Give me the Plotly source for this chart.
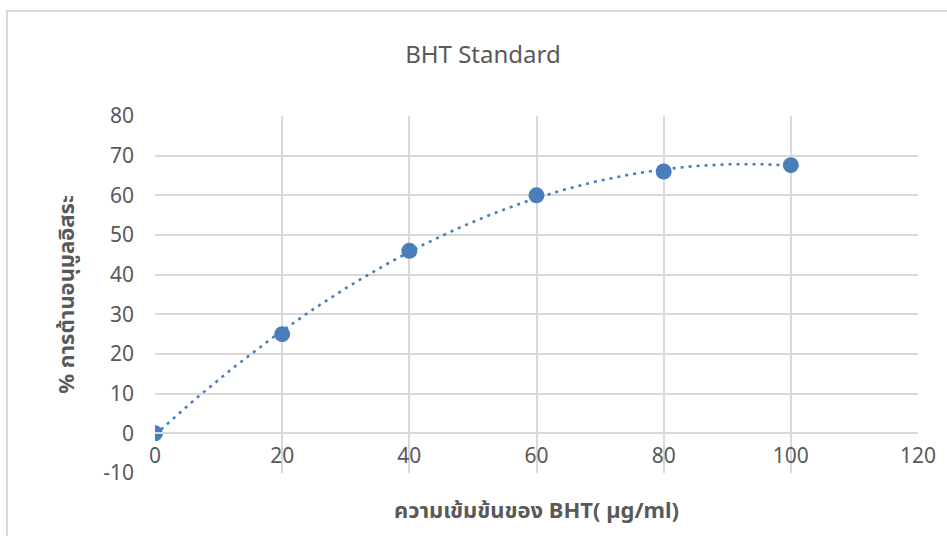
import numpy as np
import plotly.graph_objects as go

# BHT standard curve: concentration vs. % antioxidant activity
concentration = [0, 20, 40, 60, 80, 100]
inhibition = [0, 25, 46, 60, 66, 67.6]

x_ticks = [0, 20, 40, 60, 80, 100, 120]
y_ticks = [-10, 0, 10, 20, 30, 40, 50, 60, 70, 80]

title_text = "BHT Standard"
x_title = "ความเข้มข้นของ BHT( µg/ml)"
y_title = "% การต้านอนุมูลอิสระ"

# Second-order polynomial trendline fitted to the measured points
coeffs = np.polyfit(concentration, inhibition, 2)
trend_x = np.linspace(min(concentration), max(concentration), 200)
trend_y = np.polyval(coeffs, trend_x)

BLUE = "#4a7ebb"
TEXT = "#595959"
GRID = "#d9d9d9"
FONT = "Noto Sans, Noto Sans Thai, sans-serif"

fig = go.Figure()
fig.add_trace(go.Scatter(
    x=trend_x, y=trend_y, mode="lines",
    line=dict(color=BLUE, width=2.6, dash="3px,5px"),
    hoverinfo="skip", showlegend=False,
))
fig.add_trace(go.Scatter(
    x=concentration, y=inhibition, mode="markers",
    marker=dict(color=BLUE, size=16, line=dict(width=0)),
    showlegend=False,
))

fig.update_layout(
    width=947, height=536,
    margin=dict(l=155, r=29, t=116, b=63),
    paper_bgcolor="white", plot_bgcolor="white",
    font=dict(family=FONT, color=TEXT, size=21),
    title=dict(text=title_text, x=0.51, xref="container", y=1 - 55 / 536,
               yref="container", xanchor="center", yanchor="middle",
               font=dict(size=24, color=TEXT, family=FONT)),
    xaxis=dict(
        range=[0, 120], tickvals=x_ticks, ticktext=[str(v) for v in x_ticks],
        showgrid=True, gridcolor=GRID, gridwidth=2,
        zeroline=False, showline=True, linecolor=GRID, linewidth=2,
        anchor="free", position=10 / 90,
        ticks="", ticklabelstandoff=3,
        tickfont=dict(size=21, color=TEXT),
        title=dict(text="<b>" + x_title + "</b>", standoff=34,
                   font=dict(size=22, color=TEXT)),
        automargin=False,
    ),
    yaxis=dict(
        range=[-10, 80], tickvals=y_ticks, ticktext=[str(v) for v in y_ticks],
        showgrid=True, gridcolor=GRID, gridwidth=2,
        zeroline=False, showline=False,
        ticks="", ticklabelstandoff=20,
        tickfont=dict(size=21, color=TEXT),
        title=dict(text="<b>" + y_title + "</b>", standoff=22,
                   font=dict(size=22, color=TEXT)),
        automargin=False,
    ),
    shapes=[dict(type="rect", xref="paper", yref="paper",
                 x0=-155 / 763 + 7 / 763, x1=1.2, y0=-0.5, y1=1 + (116 - 11) / 357,
                 line=dict(color=GRID, width=2), fillcolor="rgba(0,0,0,0)",
                 layer="below")],
)

fig.write_html("out.html")
